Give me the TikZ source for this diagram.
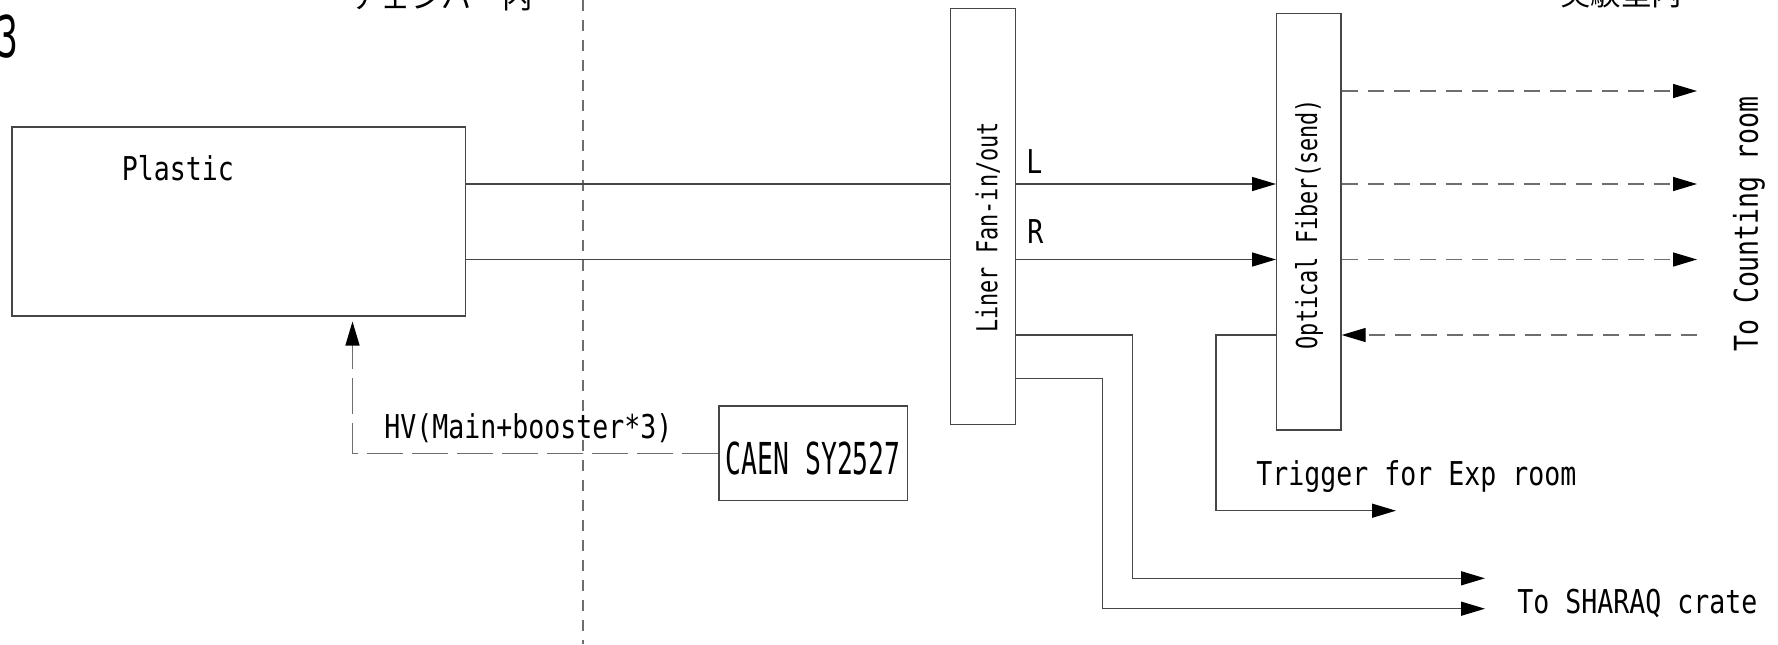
\documentclass[tikz,border=0pt]{standalone}
\usepackage{fontspec}
\usetikzlibrary{arrows.meta}
\newfontfamily\cadfont{DejaVu Sans Mono}[FakeStretch=0.81]
\newfontfamily\cadtallfont{DejaVu Sans Mono}[FakeStretch=0.6]
\newfontfamily\cadnarrowfont{DejaVu Sans Mono}[FakeStretch=0.76]
\newfontfamily\jpfont{Noto Sans CJK JP}
\definecolor{wiregray}{RGB}{70, 70, 70}
\definecolor{dashgray}{RGB}{110, 110, 110}

\begin{document}
\begin{tikzpicture}[
        x=0.5pt, y=-0.5pt,
        modbox/.style={rectangle, draw=wiregray, line width=0.7pt, inner sep=0pt},
        lbl/.style={inner sep=0pt, font=\cadfont\fontsize{16.4pt}{18pt}\selectfont},
        talllbl/.style={inner sep=0pt, font=\cadtallfont\fontsize{22pt}{24pt}\selectfont},
        vlbl/.style={inner sep=0pt, rotate=90, font=\cadnarrowfont\fontsize{14.4pt}{16pt}\selectfont},
        jplbl/.style={inner sep=0pt, font=\jpfont\fontsize{15.25pt}{17pt}\selectfont},
        bignum/.style={inner sep=0pt, font=\cadtallfont\fontsize{28.8pt}{30pt}\selectfont},
        wire/.style={draw=wiregray, line width=0.7pt},
        arrow/.style={-{Triangle[length=12pt, width=7pt, color=black]}},
        fiber/.style={wire, draw=dashgray, dash pattern=on 8pt off 5pt},
        hvline/.style={wire, draw=dashgray, dash pattern=on 18pt off 4.5pt},
        chamberwall/.style={draw=dashgray, line width=0.6pt, dash pattern=on 5.5pt off 4.5pt}
    ]
        \useasboundingbox (0,0) rectangle (1778,644);
        \clip (0,0) rectangle (1778,644);

        % Header texts (cut at the top)
        \node (figno) [bignum, anchor=base east] at (18.5,57) {3};
        \node (chambertxt) [jplbl, anchor=base west] at (350,8.5) {チェンバー内};
        \node (roomtxt) [jplbl, anchor=base west] at (1560,5) {実験室内};

        % Chamber boundary
        \draw [chamberwall] (583,0) -- (583,644);

        % Modules
        \node (plastic) [modbox, minimum width=226.85pt, minimum height=94.5pt] at (238.85,221.5) {};
        \node (plastictxt) [lbl, anchor=base west] at (121.5,180) {Plastic};
        \node (fan) [modbox, minimum width=32.3pt, minimum height=208pt] at (983,216.3) {};
        \node (fantxt) [vlbl] at (987.8,227.5) {Liner Fan-in/out};
        \node (optic) [modbox, minimum width=32.15pt, minimum height=208.15pt] at (1308.85,221.85) {};
        \node (optictxt) [vlbl] at (1309,224) {Optical Fiber(send)};
        \node (caen) [modbox, talllbl, minimum width=94.25pt, minimum height=47.25pt, text height=21.5pt, text depth=0pt] at (813.25,453.25) {CAEN SY2527};

        % Rows and free ends
        \coordinate (rowT) at (0,91);
        \coordinate (rowL) at (0,184);
        \coordinate (rowR) at (0,259.5);
        \coordinate (rowB) at (0,335);
        \coordinate (rowC) at (0,378.3);
        \coordinate (cntend) at (1697,0);
        \coordinate (trigturn) at (1216,510.7);
        \coordinate (trigend) at (1396,510.7);
        \coordinate (sharaqa) at (1132.7,578.3);
        \coordinate (sharaqb) at (1102.3,608.7);
        \coordinate (sharaqend) at (1485,0);
        \coordinate (hvtip) at (352.5,321.5);

        % Signal lines
        \draw [wire] (plastic.east |- rowL) -- (fan.west |- rowL);
        \draw [wire] (plastic.east |- rowR) -- (fan.west |- rowR);
        \draw [wire, arrow] (fan.east |- rowL) -- (optic.west |- rowL);
        \draw [wire, arrow] (fan.east |- rowR) -- (optic.west |- rowR);
        \node (lbll) [lbl, anchor=base west] at (1026,173) {L};
        \node (lblr) [lbl, anchor=base west] at (1027,243) {R};

        % Optical links
        \foreach \r in {rowT, rowL, rowR}
            \draw [fiber, arrow] (optic.east |- \r) -- (cntend |- \r);
        \draw [fiber, arrow] (cntend |- rowB) -- (optic.east |- rowB);
        \node (cnttxt) [lbl, rotate=90] at (1749,224) {To Counting room};

        % Trigger
        \draw [wire, arrow] (optic.west |- rowB) -| (trigturn) -- (trigend);
        \node (trigtxt) [lbl, anchor=base west] at (1256,485) {Trigger for Exp room};

        % To crate
        \draw [wire, arrow] (fan.east |- rowB) -| (sharaqa) -- (sharaqend |- sharaqa);
        \draw [wire, arrow] (fan.east |- rowC) -| (sharaqb) -- (sharaqend |- sharaqb);
        \node (sharaqtxt) [lbl, anchor=base west] at (1517,613) {To SHARAQ crate};

        % HV supply
        \draw [hvline, arrow] (caen.west) -| (hvtip);
        \node (hvtxt) [lbl, anchor=base west] at (384,438) {HV(Main+booster*3)};
    \end{tikzpicture}
\end{document}
